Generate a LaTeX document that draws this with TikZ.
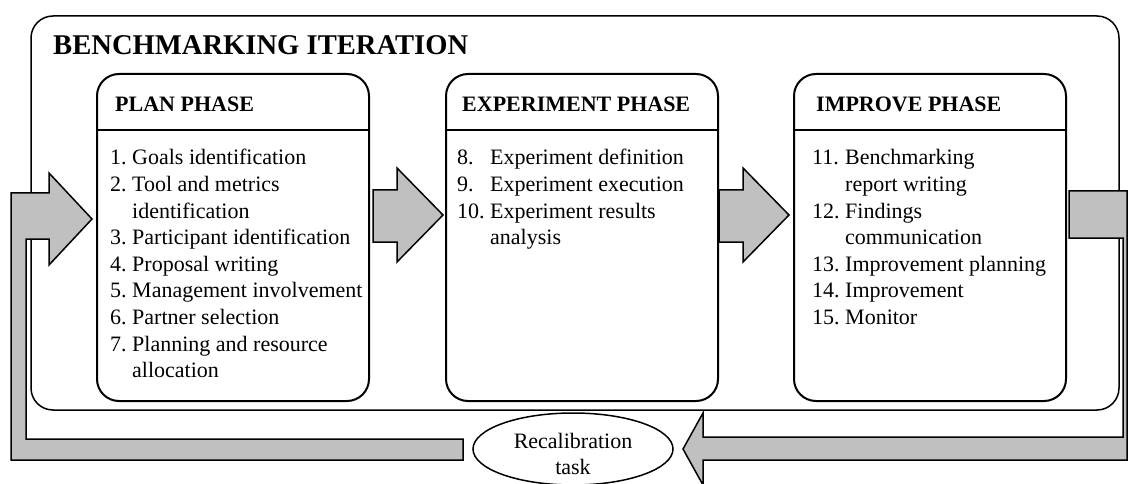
\documentclass[tikz,border=0pt]{standalone}
\usepackage{fontspec}
\setmainfont{Liberation Serif}
\usetikzlibrary{shapes.geometric}
\definecolor{arrowgray}{HTML}{C0C0C0}
\begin{document}
\begin{tikzpicture}[x=1pt,y=-1pt,
  outerbox/.style={draw, line width=1.5pt, rounded corners=22pt},
  phasebox/.style={draw, line width=2pt, rounded corners=22pt, minimum width=272pt, minimum height=327pt, anchor=north west, inner sep=0pt},
  sepline/.style={line width=1.5pt},
  bigarrow/.style={draw, line width=1.5pt, fill=arrowgray, line join=miter},
  titletext/.style={font=\fontsize{28.6}{34}\selectfont\bfseries, anchor=base west, inner sep=0pt},
  headtext/.style={font=\fontsize{22}{26.6}\selectfont\bfseries, anchor=base west, inner sep=0pt},
  bodytext/.style={font=\fontsize{22}{26.6}\selectfont, anchor=base west, inner sep=0pt},
  recal/.style={draw, ellipse, line width=1.5pt, minimum width=200pt, minimum height=72pt, inner sep=0pt},
  ]
\useasboundingbox (0,0) rectangle (1128,484);
% outer iteration box
\draw[outerbox] (31,16) rectangle (1119,410);
\node[titletext] (title) at (53,55) {BENCHMARKING ITERATION};
% phase boxes
\node[phasebox] (plan) at (96,73) {};
\node[phasebox] (exp) at (445,73) {};
\node[phasebox] (imp) at (793,73) {};
\draw[sepline] (plan.west |- 0,130) -- (plan.east |- 0,130);
\draw[sepline] (exp.west |- 0,130) -- (exp.east |- 0,130);
\draw[sepline] (imp.west |- 0,130) -- (imp.east |- 0,130);
\node[headtext] (planhead) at (115,112) {PLAN PHASE};
\node[headtext] (exphead) at (462,112) {EXPERIMENT PHASE};
\node[headtext] (imphead) at (816,112) {IMPROVE PHASE};
\node[bodytext] (planlist) at (110,165) {\begin{tabular}[t]{@{}l@{\ }l@{}}
1. & Goals identification\\
2. & Tool and metrics\\
   & identification\\
3. & Participant identification\\
4. & Proposal writing\\
5. & Management involvement\\
6. & Partner selection\\
7. & Planning and resource\\
   & allocation
\end{tabular}};
\node[bodytext] (explist) at (457,165) {\begin{tabular}[t]{@{}l@{\ }l@{}}
8. & Experiment definition\\
9. & Experiment execution\\
10. & Experiment results\\
    & analysis
\end{tabular}};
\node[bodytext] (implist) at (812,165) {\begin{tabular}[t]{@{}l@{\ }l@{}}
11. & Benchmarking\\
    & report writing\\
12. & Findings\\
    & communication\\
13. & Improvement planning\\
14. & Improvement\\
15. & Monitor
\end{tabular}};
% block arrows
\draw[bigarrow] (11,460) -- (11,193) -- (49,193) -- (49,173) -- (92,219) -- (49,265) -- (49,239) -- (26,239) -- (26,439) -- (463,439) -- (463,460) -- cycle;
\draw[bigarrow] (373,190) -- (397,190) -- (397,168) -- (443,215) -- (397,262) -- (397,242) -- (373,242) -- cycle;
\draw[bigarrow] (719,190) -- (743,190) -- (743,168) -- (789,215) -- (743,262) -- (743,242) -- (719,242) -- cycle;
\draw[bigarrow] (1069,191) -- (1127,191) -- (1127,460) -- (703,460) -- (703,485) -- (683,449) -- (703,413) -- (703,437) -- (1123,437) -- (1123,238) -- (1069,238) -- cycle;
% recalibration
\node[recal] (rc) at (573,449) {};
\node[bodytext, anchor=base] (rctext) at (573,448) {\begin{tabular}[t]{@{}c@{}}Recalibration\\task\end{tabular}};
\end{tikzpicture}
\end{document}
